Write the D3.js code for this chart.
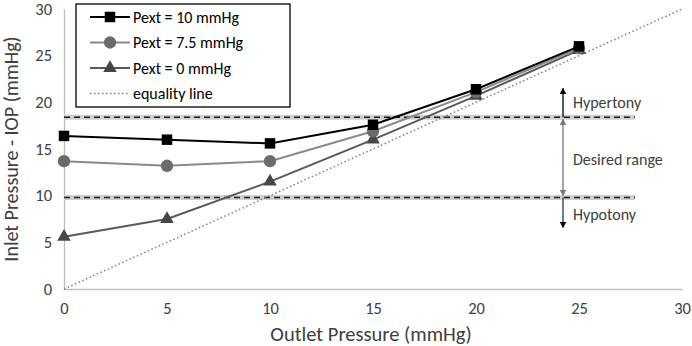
<!DOCTYPE html>
<html>
<head>
<meta charset="utf-8">
<script src="https://cdn.jsdelivr.net/npm/d3@7"></script>
<style>
  body { margin: 0; background: #fff; }
  svg { display: block; font-family: Carlito, Calibri, sans-serif; }
</style>
</head>
<body>
<svg width="692" height="346"></svg>
<script>
let svg = d3.select("svg");

let outlet = [0, 5, 10, 15, 20, 25];
let pext10 = [16.4, 16.0, 15.6, 17.6, 21.4, 26.0];
let pext75 = [13.7, 13.2, 13.7, 16.9, 21.1, 25.8];
let pext0 = [5.6, 7.5, 11.5, 16.0, 20.7, 25.6];
let equality = [0, 30];
let upper_limit = 18.4;
let lower_limit = 9.8;
let x_ticks = [0, 5, 10, 15, 20, 25, 30];
let y_ticks = [0, 5, 10, 15, 20, 25, 30];

let margin = { left: 64, right: 10, top: 9, bottom: 57 };
let width = 692 - margin.left - margin.right;
let height = 346 - margin.top - margin.bottom;

let x_scale = d3.scaleLinear().domain([0, 30]).range([0, width]);
let y_scale = d3.scaleLinear().domain([0, 30]).range([height, 0]);

let frame = svg.append("g")
  .attr("transform", "translate(" + margin.left + "," + margin.top + ")");

// axes: plain grey lines, no tick marks
let x_axis = frame.append("g")
  .attr("transform", "translate(0," + height + ")")
  .call(d3.axisBottom(x_scale).tickValues(x_ticks).tickSize(0).tickPadding(13));
let y_axis = frame.append("g")
  .call(d3.axisLeft(y_scale).tickValues(y_ticks).tickSize(0).tickPadding(12));
[x_axis, y_axis].forEach((ax) => {
  ax.select(".domain").attr("stroke", "#bfbfbf").attr("stroke-width", 1.3);
  ax.selectAll("text")
    .attr("fill", "#404040")
    .style("font-size", "16.5px")
    .style("font-family", "Carlito, Calibri, sans-serif");
});

// threshold lines with a soft grey band behind
let limit_end = 635 - margin.left;
[upper_limit, lower_limit].forEach((v) => {
  frame.append("line")
    .attr("x1", 0).attr("x2", limit_end)
    .attr("y1", y_scale(v)).attr("y2", y_scale(v))
    .attr("stroke", "#d0d0d0").attr("stroke-width", 5);
  frame.append("line")
    .attr("x1", 0).attr("x2", limit_end)
    .attr("y1", y_scale(v)).attr("y2", y_scale(v))
    .attr("stroke", "#1a1a1a").attr("stroke-width", 1.6)
    .attr("stroke-dasharray", "6,4");
});

// equality line
let line = d3.line().x((d) => x_scale(d[0])).y((d) => y_scale(d[1]));
frame.append("path")
  .datum(equality.map((v) => [v, v]))
  .attr("d", line)
  .attr("fill", "none")
  .attr("stroke", "#7f7f7f")
  .attr("stroke-width", 1.5)
  .attr("stroke-dasharray", "1.5,2.5");

let series = [
  { name: "Pext = 10 mmHg", values: pext10, color: "#000000", line_color: "#000000", shape: d3.symbolSquare, size: 110 },
  { name: "Pext = 7.5 mmHg", values: pext75, color: "#6b6b6b", line_color: "#8a8a8a", shape: d3.symbolCircle, size: 120 },
  { name: "Pext = 0 mmHg", values: pext0, color: "#474747", line_color: "#595959", shape: d3.symbolTriangle, size: 80 }
];

series.slice().reverse().forEach((s) => {
  let pts = outlet.map((o, i) => [o, s.values[i]]);
  frame.append("path")
    .datum(pts)
    .attr("d", line)
    .attr("fill", "none")
    .attr("stroke", s.line_color)
    .attr("stroke-width", 2);
  frame.selectAll(null)
    .data(pts)
    .enter().append("path")
      .attr("d", d3.symbol().type(s.shape).size(s.size))
      .attr("transform", (d) => "translate(" + x_scale(d[0]) + "," + y_scale(d[1]) + ")")
      .attr("fill", s.color);
});

// range arrows on the right
let arrow_x = 563 - margin.left;
let defs = svg.append("defs");
[["head-black", "#000"], ["head-grey", "#777"]].forEach((m) => {
  defs.append("marker")
    .attr("id", m[0])
    .attr("viewBox", "0 0 10 10")
    .attr("refX", 9).attr("refY", 5)
    .attr("markerWidth", 5).attr("markerHeight", 5)
    .attr("orient", "auto-start-reverse")
    .append("path")
      .attr("d", "M0,0L10,5L0,10z")
      .attr("fill", m[1]);
});

frame.append("line")
  .attr("x1", arrow_x).attr("x2", arrow_x)
  .attr("y1", y_scale(upper_limit)).attr("y2", y_scale(upper_limit) - 29)
  .attr("stroke", "#000").attr("stroke-width", 1.3)
  .attr("marker-end", "url(#head-black)");
frame.append("line")
  .attr("x1", arrow_x).attr("x2", arrow_x)
  .attr("y1", y_scale(upper_limit) + 2).attr("y2", y_scale(lower_limit) - 2)
  .attr("stroke", "#777").attr("stroke-width", 1.3)
  .attr("marker-start", "url(#head-grey)")
  .attr("marker-end", "url(#head-grey)");
frame.append("line")
  .attr("x1", arrow_x).attr("x2", arrow_x)
  .attr("y1", y_scale(lower_limit)).attr("y2", y_scale(lower_limit) + 30)
  .attr("stroke", "#333").attr("stroke-width", 1.3)
  .attr("marker-end", "url(#head-black)");

let notes = [
  ["Hypertony", 108],
  ["Desired range", 165],
  ["Hypotony", 220]
];
svg.selectAll("text.note")
  .data(notes)
  .enter().append("text")
    .attr("class", "note")
    .attr("x", 573)
    .attr("y", (d) => d[1])
    .attr("fill", "#404040")
    .style("font-size", "16px")
    .text((d) => d[0]);

// axis titles
svg.append("text")
  .attr("x", 371)
  .attr("y", 341)
  .attr("text-anchor", "middle")
  .attr("fill", "#404040")
  .style("font-size", "20.5px")
  .text("Outlet Pressure (mmHg)");
svg.append("text")
  .attr("transform", "translate(17.5," + (margin.top + height / 2) + ") rotate(-90)")
  .attr("text-anchor", "middle")
  .attr("fill", "#404040")
  .style("font-size", "20px")
  .text("Inlet Pressure - IOP (mmHg)");

// legend
let legend = svg.append("g").attr("transform", "translate(76,4)");
legend.append("rect")
  .attr("width", 214).attr("height", 103)
  .attr("fill", "#fff")
  .attr("stroke", "#000").attr("stroke-width", 1.3);

let legend_rows = series.concat([{ name: "equality line" }]);
let legend_item = legend.selectAll("g.item")
  .data(legend_rows)
  .enter().append("g")
    .attr("class", "item")
    .attr("transform", (d, i) => "translate(0," + (13 + i * 25.5) + ")");

legend_item.append("line")
  .attr("x1", 14).attr("x2", 54)
  .attr("stroke", (d) => d.line_color || "#7f7f7f")
  .attr("stroke-width", (d) => d.shape ? 2 : 1.5)
  .attr("stroke-dasharray", (d) => d.shape ? null : "1.5,2.5");
legend_item.filter((d) => d.shape).append("path")
  .attr("d", (d) => d3.symbol().type(d.shape).size(d.size)())
  .attr("transform", "translate(34,0)")
  .attr("fill", (d) => d.color);
legend_item.append("text")
  .attr("x", 57)
  .attr("y", 5.5)
  .attr("fill", "#000")
  .style("font-size", "16px")
  .text((d) => d.name);
</script>
</body>
</html>
